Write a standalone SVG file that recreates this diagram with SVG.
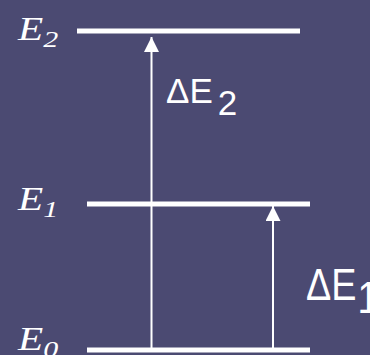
<svg xmlns="http://www.w3.org/2000/svg" width="370" height="355" viewBox="0 0 370 355">
<style>
.lvl{stroke:#ffffff;stroke-width:5;fill:none}
.arr{stroke:#ffffff;stroke-width:2;fill:none}
.it{font-family:"Liberation Serif",serif;font-style:italic;fill:#ffffff;font-size:33px}
.sub{font-size:24px}
.sa{font-family:"Liberation Sans",sans-serif;fill:#ffffff;font-size:35px}
</style>
<defs>
<marker id="ah" markerWidth="16" markerHeight="15" refX="15" refY="7.5" orient="auto" markerUnits="userSpaceOnUse">
<path d="M0,0 L15,7.5 L0,15 Z" fill="#ffffff"/>
</marker>
</defs>
<rect width="370" height="355" fill="#4b4a72"/>
<g id="E2">
<line class="lvl" x1="77" y1="31" x2="300" y2="31"/>
<text class="it" transform="translate(18,40) scale(1.25,1)">E<tspan class="sub" dy="7">2</tspan></text>
</g>
<g id="E1">
<line class="lvl" x1="87" y1="204" x2="310" y2="204"/>
<text class="it" transform="translate(18,210) scale(1.25,1)">E<tspan class="sub" dy="7">1</tspan></text>
</g>
<g id="E0">
<line class="lvl" x1="87" y1="350" x2="310" y2="350"/>
<text class="it" transform="translate(18,350) scale(1.25,1)">E<tspan class="sub" dy="7">0</tspan></text>
</g>
<g id="connectors">
<line class="arr" x1="151.5" y1="348" x2="151.5" y2="37" marker-end="url(#ah)"/>
<line class="arr" x1="273" y1="348" x2="273" y2="206" marker-end="url(#ah)"/>
</g>
<g id="dE2">
<text class="sa" x="166" y="103">ΔE<tspan dx="5" dy="12">2</tspan></text>
</g>
<g id="dE1">
<text class="sa" transform="translate(306,300) scale(1.08,1.25)" x="0" y="0">ΔE<tspan dx="1" dy="10">1</tspan></text>
</g>
</svg>
